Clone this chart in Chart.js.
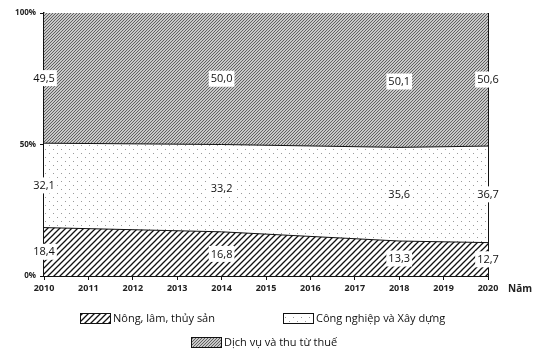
<!DOCTYPE html>
<html>
<head>
<meta charset="utf-8">
<script src="https://cdn.jsdelivr.net/npm/chart.js@4.4.0/dist/chart.umd.min.js"></script>
<style>
html,body{margin:0;padding:0;background:#fff;}
#wrap{width:541px;height:360px;position:relative;}
</style>
</head>
<body>
<div id="wrap"><canvas id="c"></canvas></div>
<script>
const years = [2010, 2014, 2018, 2020];
const nongLamThuySan = [18.4, 16.8, 13.3, 12.7];
const congNghiepXayDung = [32.1, 33.2, 35.6, 36.7];
const dichVuThue = [49.5, 50.0, 50.1, 50.6];
const seriesNames = ["Nông, lâm, thủy sản", "Công nghiệp và Xây dựng", "Dịch vụ và thu từ thuế"];
const yTickValues = [0, 50, 100];
const axisTitleX = "Năm";

function makePattern(kind) {
  const t = document.createElement('canvas');
  const g = t.getContext('2d');
  if (kind === 'nong') {
    t.width = 6; t.height = 6;
    g.fillStyle = '#fff'; g.fillRect(0,0,6,6);
    g.strokeStyle = '#111'; g.lineWidth = 1.3;
    g.beginPath();
    g.moveTo(-1,7); g.lineTo(7,-1);
    g.moveTo(-1,1); g.lineTo(1,-1);
    g.moveTo(5,7); g.lineTo(7,5);
    g.stroke();
  } else if (kind === 'cong') {
    t.width = 8; t.height = 8;
    g.fillStyle = '#fff'; g.fillRect(0,0,8,8);
    g.fillStyle = '#9a9a9a';
    g.fillRect(1,1,1,1); g.fillRect(5,5,1,1);
  } else {
    t.width = 3; t.height = 3;
    g.fillStyle = '#c8c8c8'; g.fillRect(0,0,3,3);
    g.strokeStyle = '#555'; g.lineWidth = 0.9;
    g.beginPath();
    g.moveTo(-1,4); g.lineTo(4,-1);
    g.stroke();
  }
  return g.createPattern(t, 'repeat');
}

const pats = [makePattern('nong'), makePattern('cong'), makePattern('dich')];
const seriesValues = [nongLamThuySan, congNghiepXayDung, dichVuThue];

const datasets = seriesValues.map((vals, i) => ({
  label: seriesNames[i],
  data: years.map((y, j) => ({x: y, y: vals[j]})),
  backgroundColor: pats[i],
  borderColor: i === 2 ? 'rgba(0,0,0,0)' : '#111',
  borderWidth: i === 2 ? 0 : 1,
  pointRadius: 0,
  tension: 0,
  fill: i === 0 ? 'origin' : '-1'
}));

const areaBgPlugin = {
  id: 'areaBg',
  beforeDatasetsDraw(chart) {
    const a = chart.chartArea;
    const ctx = chart.ctx;
    ctx.save();
    ctx.fillStyle = pats[2];
    ctx.fillRect(a.left, a.top, a.right - a.left, (a.bottom - a.top) / 2);
    ctx.restore();
  }
};

const labelPlugin = {
  id: 'valueLabels',
  afterDatasetsDraw(chart) {
    const ctx = chart.ctx;
    const ys = chart.scales.y;
    ctx.save();
    ctx.font = '11px "Open Sans", sans-serif';
    ctx.textAlign = 'center';
    ctx.textBaseline = 'middle';
    chart.data.datasets.forEach((ds, i) => {
      const meta = chart.getDatasetMeta(i);
      const prev = i > 0 ? chart.getDatasetMeta(i - 1) : null;
      meta.data.forEach((pt, j) => {
        const top = pt.y;
        const bottom = prev ? prev.data[j].y : ys.getPixelForValue(0);
        const mid = (top + bottom) / 2;
        const txt = seriesValues[i][j].toFixed(1).replace('.', ',');
        const w = ctx.measureText(txt).width + 4;
        ctx.fillStyle = '#fff';
        ctx.fillRect(pt.x - w / 2, mid - 8, w, 16);
        ctx.fillStyle = '#111';
        ctx.fillText(txt, pt.x, mid + 0.5);
      });
    });
    ctx.restore();
  }
};

const legendPlugin = {
  id: 'customLegend',
  afterDraw(chart) {
    const ctx = chart.ctx;
    ctx.save();
    const items = [
      {x: 80, y: 313},
      {x: 283, y: 313},
      {x: 191, y: 337}
    ];
    ctx.font = '11px "Open Sans", sans-serif';
    ctx.textBaseline = 'middle';
    ctx.textAlign = 'left';
    items.forEach((it, i) => {
      ctx.fillStyle = pats[i];
      ctx.fillRect(it.x, it.y, 31, 11);
      ctx.strokeStyle = '#111';
      ctx.lineWidth = 1;
      ctx.strokeRect(it.x + 0.5, it.y + 0.5, 30, 10);
      ctx.fillStyle = '#111';
      ctx.fillText(seriesNames[i], it.x + 33, it.y + 5.5);
    });
    ctx.font = 'bold 10px "Open Sans", sans-serif';
    ctx.fillStyle = '#222';
    ctx.fillText(axisTitleX, 508, 289);
    ctx.restore();
  }
};

new Chart(document.getElementById('c'), {
  type: 'line',
  data: {datasets},
  options: {
    responsive: true,
    maintainAspectRatio: false,
    animation: false,
    layout: {padding: {left: 0, top: 13, right: 53, bottom: 60}},
    plugins: {legend: {display: false}, tooltip: {enabled: false}},
    scales: {
      x: {
        type: 'linear',
        min: 2010, max: 2020,
        z: 1,
        afterFit(s) { s.height = 24; },
        ticks: {stepSize: 1, callback: v => String(v), color: '#222', font: {family: '"Open Sans", sans-serif', size: 9, weight: 'bold'}, padding: 3, maxRotation: 0},
        grid: {drawOnChartArea: true, color: c => (c.tick && c.tick.value === 2020) ? '#111' : 'rgba(0,0,0,0)', tickColor: '#111', tickLength: 4, lineWidth: 1},
        border: {display: true, color: '#111', width: 1}
      },
      y: {
        stacked: true,
        min: 0, max: 100,
        z: 1,
        afterFit(s) { s.width = 44; },
        afterBuildTicks(s) { s.ticks = yTickValues.map(v => ({value: v})); },
        ticks: {callback: v => v + '%', color: '#222', font: {family: '"Open Sans", sans-serif', size: 8, weight: 'bold'}, padding: 4},
        grid: {drawOnChartArea: true, color: c => (c.tick && c.tick.value === 100) ? '#111' : 'rgba(0,0,0,0)', tickColor: '#111', tickLength: 4, lineWidth: 1},
        border: {display: true, color: '#111', width: 1.5}
      }
    }
  },
  plugins: [areaBgPlugin, labelPlugin, legendPlugin]
});
</script>
</body>
</html>
